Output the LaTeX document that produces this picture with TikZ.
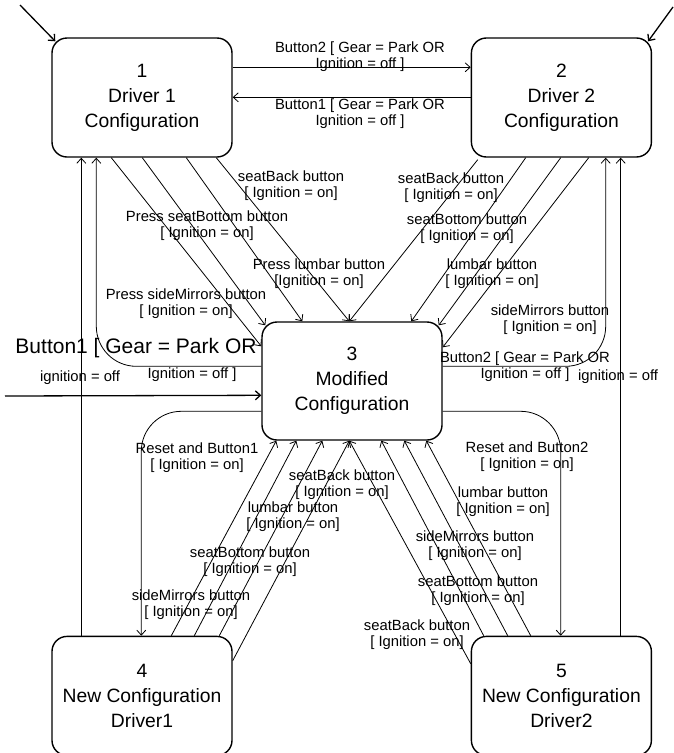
\documentclass[tikz,border=0pt]{standalone}
\usepackage{fontspec}
\setmainfont{Liberation Sans}
\usetikzlibrary{positioning,calc,arrows.meta}

\begin{document}
\begin{tikzpicture}[x=1pt, y=-1pt, >={Straight Barb[length=5pt,width=9pt]},
    state/.style={draw, line width=1.4pt, rounded corners=15pt, align=center, minimum width=180pt, minimum height=119pt, inner sep=0pt, font=\fontsize{19.3}{25}\selectfont},
    lbl/.style={align=center, inner sep=0pt, font=\fontsize{14.8}{16}\selectfont},
    trans/.style={->, line width=0.8pt},
    init/.style={->, line width=1.3pt}]
    \useasboundingbox (0,0) rectangle (674,753);

    \node[state] (drv1) at (142,97.5) {1\\Driver 1\\Configuration};
    \node[state, right=238pt of drv1] (drv2) {2\\Driver 2\\Configuration};
    \node[state, below=478pt of drv1] (new1) {4\\New Configuration\\Driver1};
    \node[state, right=238pt of new1] (new2) {5\\New Configuration\\Driver2};
    \node[state, minimum height=118pt] (modified) at (352,381) {3\\Modified\\Configuration};

    \coordinate (start1) at (20,5);
    \coordinate (start2) at (673,7);
    \coordinate (start3) at (5,396);
    \draw[init] (start1) -- ($(drv1.north west)+(4,4)$);
    \draw[init] (start2) -- ($(drv2.north east)+(-4,4)$);
    \draw[init] (start3) -- ($(modified.north west)+(0,74)$);

    \draw[trans] ($(drv1.north east)+(0,30)$) -- ($(drv2.north west)+(0,30)$);
    \draw[trans] ($(drv2.north west)+(0,60)$) -- ($(drv1.north east)+(0,60)$);

    \draw[trans] ($(drv1.south west)+(60,0)$) -- ($(modified.north west)+(0,25)$);
    \draw[trans] ($(drv1.south west)+(91,0)$) -- ($(modified.north west)+(4,4)$);
    \draw[trans] ($(drv1.south west)+(135,0)$) -- ($(modified.north west)+(41,0)$);
    \draw[trans] ($(drv1.south west)+(165,0)$) -- ($(modified.north west)+(88,0)$);

    \draw[trans] ($(drv2.south west)+(7,2)$) -- ($(modified.north west)+(88,0)$);
    \draw[trans] ($(drv2.south west)+(55,0)$) -- ($(modified.north west)+(150,0)$);
    \draw[trans] ($(drv2.south west)+(90,0)$) -- ($(modified.north east)+(-4,4)$);
    \draw[trans] ($(drv2.south west)+(118,0)$) -- ($(modified.north east)+(0,26)$);

    \draw[trans, rounded corners=40pt] ($(modified.north west)+(0,45)$) -| ($(drv1.south west)+(45,0)$);
    \draw[trans, rounded corners=40pt] ($(modified.north east)+(0,45)$) -| ($(drv2.south west)+(135,0)$);
    \draw[trans] ($(new1.north west)+(30,0)$) -- ($(drv1.south west)+(30,0)$);
    \draw[trans] ($(new2.north west)+(150,0)$) -- ($(drv2.south west)+(150,0)$);

    \draw[trans, rounded corners=40pt] ($(modified.north west)+(0,90)$) -| ($(new1.north west)+(90,0)$);
    \draw[trans, rounded corners=40pt] ($(modified.north east)+(0,90)$) -| ($(new2.north west)+(90,0)$);

    \draw[trans] ($(new1.north west)+(120,0)$) -- ($(modified.south west)+(15,0)$);
    \draw[trans] ($(new1.north west)+(143,0)$) -- ($(modified.south west)+(35,0)$);
    \draw[trans] ($(new1.north west)+(168,0)$) -- ($(modified.south west)+(61,0)$);
    \draw[trans] ($(new1.north east)+(0,25)$) -- ($(modified.south west)+(88,0)$);

    \draw[trans] ($(new2.north west)+(0,28)$) -- ($(modified.south west)+(88,0)$);
    \draw[trans] ($(new2.north west)+(13,0)$) -- ($(modified.south west)+(120,0)$);
    \draw[trans] ($(new2.north west)+(37,0)$) -- ($(modified.south west)+(143,0)$);
    \draw[trans] ($(new2.north west)+(60,0)$) -- ($(modified.south west)+(165,0)$);

    \node[lbl] (l12) at (360,57) {Button2 [ Gear = Park OR\\Ignition = off ]};
    \node[lbl] (l21) at (360,114) {Button1 [ Gear = Park OR\\Ignition = off ]};
    \node[lbl] (l13a) at (291,186) {seatBack button\\{[} Ignition = on]};
    \node[lbl] (l13b) at (207,226) {Press seatBottom button\\{[} Ignition = on]};
    \node[lbl] (l13c) at (319,274) {Press lumbar button\\{[}Ignition = on]};
    \node[lbl] (l13d) at (186,304) {Press sideMirrors button\\{[} Ignition = on]};
    \node[lbl] (l23a) at (451,188) {seatBack button\\{[} Ignition = on]};
    \node[lbl] (l23b) at (467,229) {seatBottom button\\{[} Ignition = on]};
    \node[lbl] (l23c) at (492,274) {lumbar button\\{[} Ignition = on]};
    \node[lbl] (l23d) at (550,320) {sideMirrors button\\{[} Ignition = on]};
    \node[lbl, font=\fontsize{21}{24}\selectfont] (l31a) at (136,348) {Button1 [ Gear = Park OR};
    \node[lbl] (l31b) at (192,375) {Ignition = off ]};
    \node[lbl] (l41) at (80,378) {ignition = off};
    \node[lbl] (l32) at (525,367) {Button2 [ Gear = Park OR\\Ignition = off ]};
    \node[lbl] (l52) at (618,377) {ignition = off};
    \node[lbl] (l34) at (197,458) {Reset and Button1\\{[} Ignition = on]};
    \node[lbl] (l35) at (527,457) {Reset and Button2\\{[} Ignition = on]};
    \node[lbl] (l43a) at (342,485) {seatBack button\\{[} Ignition = on]};
    \node[lbl] (l43b) at (293,517) {lumbar button\\{[} Ignition = on]};
    \node[lbl] (l43c) at (250,562) {seatBottom button\\{[} Ignition = on]};
    \node[lbl] (l43d) at (191,605) {sideMirrors button\\{[} Ignition = on]};
    \node[lbl] (l53a) at (503,502) {lumbar button\\{[} Ignition = on]};
    \node[lbl] (l53b) at (475,546) {sideMirrors button\\{[} Ignition = on]};
    \node[lbl] (l53c) at (478,591) {seatBottom button\\{[} Ignition = on]};
    \node[lbl] (l53d) at (417,635) {seatBack button\\{[} Ignition = on]};
\end{tikzpicture}
\end{document}
